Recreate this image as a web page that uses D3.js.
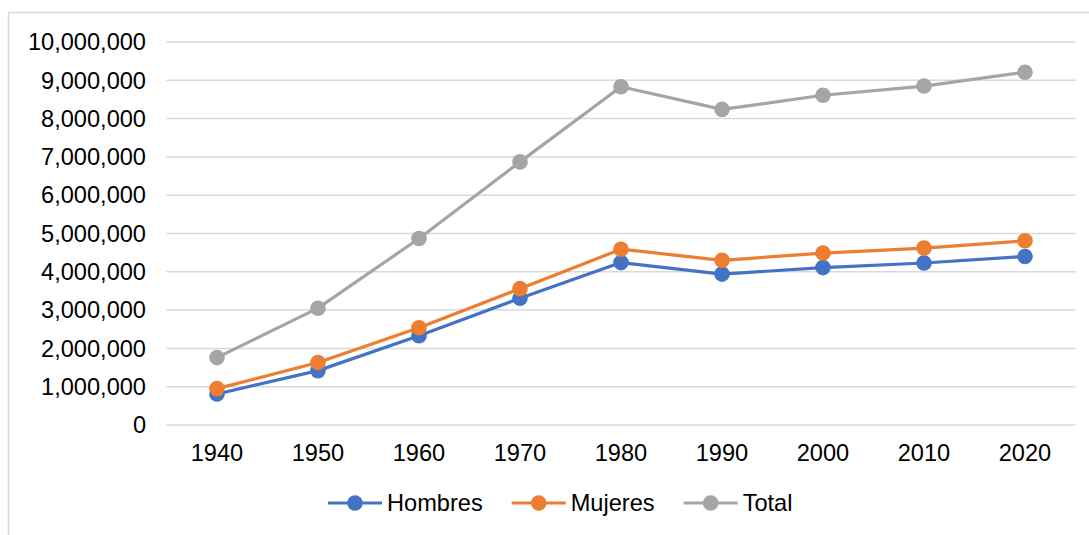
<!DOCTYPE html>
<html>
<head>
<meta charset="utf-8">
<script src="https://cdn.jsdelivr.net/npm/d3@7"></script>
<style>
  body { margin: 0; background: #fff; }
  text { font-family: "Liberation Sans", Arial, sans-serif; fill: #000; }
</style>
</head>
<body>
<svg id="chart" width="1089" height="535"></svg>
<script>
const years = ['1940', '1950', '1960', '1970', '1980', '1990', '2000', '2010', '2020'];
const hombres = [810000, 1420000, 2330000, 3310000, 4240000, 3940000, 4110000, 4230000, 4400000];
const mujeres = [950000, 1630000, 2540000, 3560000, 4590000, 4300000, 4490000, 4620000, 4810000];
const total = [1760000, 3050000, 4870000, 6870000, 8830000, 8240000, 8610000, 8850000, 9210000];
const yTicks = [0, 1000000, 2000000, 3000000, 4000000, 5000000, 6000000, 7000000, 8000000, 9000000, 10000000];

const series = [
    { name: 'Hombres', values: hombres, color: '#4472C4' },
    { name: 'Mujeres', values: mujeres, color: '#ED7D31' },
    { name: 'Total', values: total, color: '#A5A5A5' }
];

const svg = d3.select('#chart');
const fontSize = 23.6;

// chart border (runs off right and bottom)
svg.append('rect')
    .attr('x', 8.5).attr('y', 12.5)
    .attr('width', 1200).attr('height', 700)
    .attr('fill', 'none').attr('stroke', '#d9d9d9').attr('stroke-width', 1.5);

const x = d3.scalePoint().domain(years).range([166.5, 1075.5]).padding(0.5);
const y = d3.scaleLinear().domain([0, 10000000]).range([425, 42]);
const fmt = d3.format(',');

// gridlines
svg.append('g')
    .selectAll('line')
    .data(yTicks)
    .enter()
    .append('line')
        .attr('x1', 166.5).attr('x2', 1075.5)
        .attr('y1', d => y(d)).attr('y2', d => y(d))
        .attr('stroke', '#d9d9d9').attr('stroke-width', 1.5);

// y labels
svg.append('g')
    .selectAll('text')
    .data(yTicks)
    .enter()
    .append('text')
        .attr('x', 146)
        .attr('y', d => y(d))
        .attr('dy', '0.35em')
        .attr('text-anchor', 'end')
        .style('font-size', fontSize + 'px')
        .text(d => fmt(d));

// x labels
svg.append('g')
    .selectAll('text')
    .data(years)
    .enter()
    .append('text')
        .attr('x', d => x(d))
        .attr('y', 461)
        .attr('text-anchor', 'middle')
        .style('font-size', fontSize + 'px')
        .text(d => d);

const line = d3.line()
    .x((d, i) => x(years[i]))
    .y(d => y(d));

series.forEach(s => {
    const g = svg.append('g');
    g.append('path')
        .attr('d', line(s.values))
        .attr('fill', 'none')
        .attr('stroke', s.color)
        .attr('stroke-width', 3.2)
        .attr('stroke-linejoin', 'round');
    g.selectAll('circle')
        .data(s.values)
        .enter()
        .append('circle')
            .attr('cx', (d, i) => x(years[i]))
            .attr('cy', d => y(d))
            .attr('r', 7.8)
            .attr('fill', s.color);
});

// legend
const legend = svg.append('g');
let lx = 328;
const ly = 503;
series.forEach(s => {
    legend.append('line')
        .attr('x1', lx).attr('x2', lx + 54)
        .attr('y1', ly).attr('y2', ly)
        .attr('stroke', s.color).attr('stroke-width', 3.2);
    legend.append('circle')
        .attr('cx', lx + 27).attr('cy', ly).attr('r', 7.8)
        .attr('fill', s.color);
    const t = legend.append('text')
        .attr('x', lx + 59).attr('y', ly)
        .attr('dy', '0.35em')
        .style('font-size', fontSize + 'px')
        .text(s.name);
    lx += 59 + t.node().getComputedTextLength() + 29;
});
</script>
</body>
</html>
